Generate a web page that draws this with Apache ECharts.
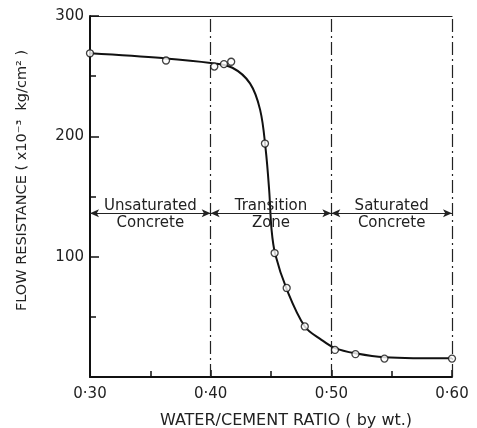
<!DOCTYPE html>
<html><head><meta charset="utf-8">
<script src="https://cdn.jsdelivr.net/npm/echarts@6/dist/echarts.min.js"></script>
<style>html,body{margin:0;padding:0;background:#fff}#c{width:477px;height:428px}</style>
</head><body><div id="c"></div>
<script>
// measured points (open circles)
const wcRatio    = [0.300, 0.363, 0.403, 0.411, 0.417, 0.445, 0.453, 0.463, 0.478, 0.503, 0.520, 0.544, 0.600];
const resistance = [269,   263,   258,   260,   262,   194,   103,   74,    42,    22.5,  19,    15.3,  15.3];
// fitted curve
const curveX = [0.300, 0.360, 0.400, 0.418, 0.4326, 0.441, 0.4455, 0.4485, 0.4505, 0.4535, 0.463, 0.478, 0.491, 0.503, 0.521, 0.544, 0.600];
const curveY = [269,   265,   261,   257,   244,    222,   190,    155,    122,    102,    73,    42,    31.5,  24,    19.5,  16.5,  15.5];
// zone boundaries and annotations
const zoneBounds = [0.30, 0.40, 0.50, 0.60];
const zoneTop    = ['Unsaturated', 'Transition', 'Saturated'];
const zoneBottom = ['Concrete', 'Zone', 'Concrete'];
const xTicks = ['0·30', '0·40', '0·50', '0·60'];
const yTicks = [100, 200, 300];

const ink = '#111';
const font = 'DejaVu Sans';
const arrowY = 136, topTextY = 142, botTextY = 128;

const arrows = [];
const texts = [];
for (let i = 0; i < zoneTop.length; i++) {
  arrows.push([{coord: [zoneBounds[i], arrowY]}, {coord: [zoneBounds[i + 1], arrowY]}]);
  const mid = (zoneBounds[i] + zoneBounds[i + 1]) / 2;
  texts.push({coord: [mid, topTextY], value: zoneTop[i]});
  texts.push({coord: [mid, botTextY], value: zoneBottom[i]});
}

const chart = echarts.init(document.getElementById('c'), null, {renderer: 'canvas'});
chart.setOption({
  animation: false,
  backgroundColor: '#fff',
  grid: {left: 90, right: 25, top: 16, bottom: 51, containLabel: false, outerBoundsMode: 'none'},
  xAxis: [{
    type: 'value', min: 0.3, max: 0.6, interval: 0.1,
    axisLine: {show: true, onZero: false, lineStyle: {color: ink, width: 2}},
    axisTick: {show: true, inside: true, length: 7, lineStyle: {color: ink, width: 1.5}},
    minorTick: {show: true, splitNumber: 2, length: 6, lineStyle: {color: ink, width: 1.5}},
    splitLine: {show: false},
    axisLabel: {color: '#222', fontFamily: font, fontSize: 15, margin: 10,
      formatter: v => { const i = Math.round((v - 0.3) * 10); return xTicks[i] || ''; }},
    name: 'WATER/CEMENT RATIO ( by wt.)', nameLocation: 'middle', nameGap: 36,
    nameTextStyle: {color: '#222', fontFamily: font, fontSize: 16, padding: [0, 0, 0, 30]}
  }, {
    type: 'value', min: 0.3, max: 0.6, position: 'top',
    axisLine: {show: true, onZero: false, lineStyle: {color: '#222', width: 1.2}},
    axisTick: {show: false}, axisLabel: {show: false}, splitLine: {show: false}
  }],
  yAxis: {
    type: 'value', min: 0, max: 300, interval: 100,
    axisLine: {show: true, onZero: false, lineStyle: {color: ink, width: 2}},
    axisTick: {show: true, inside: true, length: 9, lineStyle: {color: ink, width: 1.5}},
    minorTick: {show: true, splitNumber: 2, length: 6, lineStyle: {color: ink, width: 1.5}},
    splitLine: {show: false},
    axisLabel: {color: '#222', fontFamily: font, fontSize: 15, margin: 6,
      formatter: v => yTicks.indexOf(v) >= 0 ? String(v) : ''},
    name: 'FLOW RESISTANCE ( x10⁻³  kg/cm² )', nameLocation: 'middle', nameGap: 60,
    nameTextStyle: {color: '#222', fontFamily: font, fontSize: 14.5, padding: [0, 0, 0, 32]}
  },
  series: [{
    type: 'line', name: 'curve', xAxisIndex: 0,
    data: curveX.map((x, i) => [x, curveY[i]]),
    smooth: 0.35, showSymbol: false, symbol: 'none',
    lineStyle: {color: ink, width: 2},
    markLine: {
      silent: true, symbol: 'none', animation: false,
      label: {show: false},
      lineStyle: {color: '#222', width: 1.2, type: [13, 4, 2, 4]},
      data: zoneBounds.slice(1).map(b => ({xAxis: b}))
    },
    z: 3
  }, {
    type: 'line', name: 'arrows', data: [],
    markLine: {
      silent: true, animation: false, symbol: ['arrow', 'arrow'], symbolSize: [6, 9],
      label: {show: false},
      lineStyle: {color: '#222', width: 1, type: 'solid'},
      data: arrows
    },
    markPoint: {
      silent: true, animation: false, symbol: 'circle', symbolSize: 0,
      label: {show: true, position: 'inside', color: '#222', fontFamily: font, fontSize: 15,
        formatter: p => p.data.value},
      data: texts
    }
  }, {
    type: 'scatter', name: 'points',
    data: wcRatio.map((x, i) => [x, resistance[i]]),
    symbol: 'circle', symbolSize: 7,
    itemStyle: {color: '#fff', borderColor: ink, borderWidth: 1.3},
    z: 5
  }]
});
</script></body></html>
